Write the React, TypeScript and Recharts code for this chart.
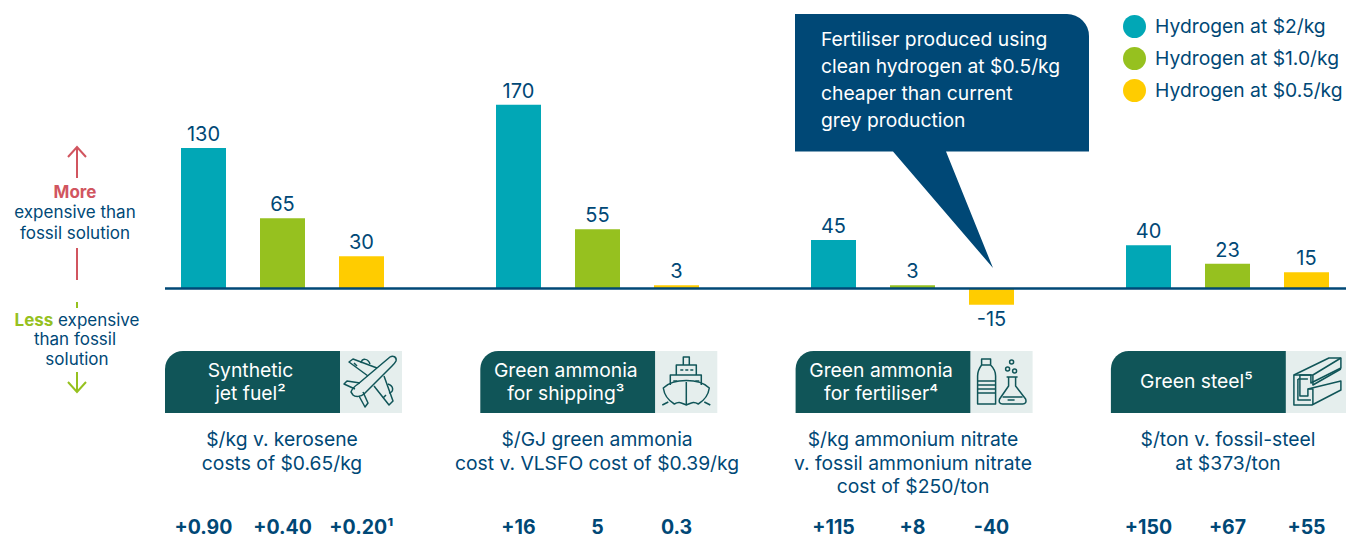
import * as React from "react";
import { BarChart, Bar, XAxis, YAxis, ReferenceLine, LabelList, Legend } from "recharts";

const NAVY = "#004876";
const TEAL = "#01A7B6";
const GREEN = "#96C11F";
const YELLOW = "#FFCC00";
const DARK_TEAL = "#105558";
const PALE = "#E5EEED";
const RED = "#D1555F";
const FONT = "Inter, sans-serif";

const categories = ["Synthetic jet fuel", "Green ammonia for shipping", "Green ammonia for fertiliser", "Green steel"];
const h2Values = [130, 170, 45, 40];
const h1Values = [65, 55, 3, 23];
const h05Values = [30, 3, -15, 15];
const h2Costs = ["+0.90", "+16", "+115", "+150"];
const h1Costs = ["+0.40", "5", "+8", "+67"];
const h05Costs = ["+0.20¹", "0.3", "-40", "+55"];
const headerLines = [["Synthetic", "jet fuel²"], ["Green ammonia", "for shipping³"], ["Green ammonia", "for fertiliser⁴"], ["Green steel⁵"]];
const descLines = [
  ["$/kg v. kerosene", "costs of $0.65/kg"],
  ["$/GJ green ammonia", "cost v. VLSFO cost of $0.39/kg"],
  ["$/kg ammonium nitrate", "v. fossil ammonium nitrate", "cost of $250/ton"],
  ["$/ton v. fossil-steel", "at $373/ton"],
];
const descCenters = [282, 597, 913, 1228];
const calloutLines = ["Fertiliser produced using", "clean hydrogen at $0.5/kg", "cheaper than current", "grey production"];

const data = categories.map((name, i) => ({
  name,
  h2: h2Values[i], h1: h1Values[i], h05: h05Values[i],
  c2: h2Costs[i], c1: h1Costs[i], c05: h05Costs[i],
}));

const CostLabel = (props: any) => (
  <text x={props.x + props.width / 2} y={534} textAnchor="middle" fontFamily={FONT} fontSize={19.5} fontWeight={700} fill={NAVY}>
    {props.value}
  </text>
);

function LegendBox({ payload }: any) {
  return (
    <div style={{ fontFamily: FONT, fontSize: 19.3, color: NAVY }}>
      {(payload || []).map((p: any) => (
        <div key={p.value} style={{ display: "flex", alignItems: "center", height: 32, whiteSpace: "nowrap" }}>
          <span style={{ width: 23, height: 23, borderRadius: "50%", background: p.color, marginRight: 9 }} />
          {p.value}
        </div>
      ))}
    </div>
  );
}

const PlaneIcon = () => (
  <g>
    <path d="M50 6 C53 4 57 6 56 10 C55 12 54 13 52 15 L24 43 C21 46 15 46 13 44 L11 41 C12 38 15 35 18 33 Z" />
    <path d="M37 17 L13 8 L9 11 L28 25 M44 25 L53 50 L49 54 L34 35" />
    <path d="M20 32 L7 30 L4 33 L15 38 M23 41 L28 52 L25 56 L19 45" />
    <path d="M21 12 C22 7 28 7 30 13 M48 33 C54 35 54 41 49 42" />
    <path d="M14 12 L17 15 M46 44 L43 47" />
  </g>
);

const ShipIcon = () => (
  <g>
    <path d="M28 14 V6 H34 V14 M21 24 V14 H41 V24 M15 34 V24 H46 V34" />
    <path d="M25 19 H28 M30 19 H33 M35 19 H38" />
    <path d="M8 37 C18 27 44 27 54 37 C53 44 48 50 43 53 C38 50 36 52 31 54 C26 52 24 50 19 53 C14 50 9 44 8 37 Z" />
    <path d="M31 31 V54 M7 54 L13 51 M55 54 L49 51 M18 30 H22 M40 30 H44" />
  </g>
);

const BottleIcon = () => (
  <g>
    <path d="M11 8 H20 V14 C24 18 25 21 25 25 V53 H7 V25 C7 21 8 18 11 14 Z M11 14 H20" />
    <path d="M7 30 H25 M7 34 H25 M7 38 H25 M7 42 H25" />
    <path d="M36 26 H47 M38 26 V35 L29 48 C28 51 29 53 32 53 H52 C55 53 56 51 55 48 L45 35 V26" />
    <path d="M32 46 H52 M37 49 H44" />
    <circle cx={41} cy={11} r={2} />
    <circle cx={37} cy={18} r={2} />
    <circle cx={44} cy={20} r={2} />
  </g>
);

const BeamIcon = () => (
  <g>
    <path d="M8 24 L43 7 L55 7 V17 L25 32 V24 H14 V45 H22 V38 L55 30 V39 L26 54 H8 Z" />
    <path d="M8 24 H27 L55 7 M27 24 V34 L55 18 M22 38 H27 V54 M12 28 H22 M12 28 V49 H25" />
  </g>
);

const icons = [<PlaneIcon />, <ShipIcon />, <BottleIcon />, <BeamIcon />];

function Header({ index }: { index: number }) {
  const x = 165 + index * 315.3;
  const lines = headerLines[index];
  const y0 = lines.length === 2 ? 26 : 37;
  return (
    <g transform={`translate(${x},351)`}>
      <path d="M0 62 V18 A18 18 0 0 1 18 0 H175 V62 Z" fill={DARK_TEAL} />
      <rect x={175} width={62} height={62} fill={PALE} />
      <text textAnchor="middle" fontFamily={FONT} fontSize={19.3} fill="#fff">
        {lines.map((l, i) => (
          <tspan key={l} x={85.5} y={y0 + i * 23}>{l}</tspan>
        ))}
      </text>
      <g transform="translate(175,0)" fill="none" stroke={DARK_TEAL} strokeWidth={1.5} strokeLinejoin="round">
        {icons[index]}
      </g>
    </g>
  );
}

function Annotations() {
  return (
    <svg width={1346} height={535} style={{ position: "absolute", left: 0, top: 0, pointerEvents: "none" }}>
      {/* callout */}
      <path d="M795 14 H1067 A22 22 0 0 1 1089 36 V151.5 H946 L993 268 L893 151.5 H795 Z" fill={NAVY} />
      <text fontFamily={FONT} fontSize={19.3} fill="#fff">
        {calloutLines.map((l, i) => (
          <tspan key={l} x={821} y={46 + i * 27}>{l}</tspan>
        ))}
      </text>

      {/* more / less side note */}
      <g fill="none" stroke={RED} strokeWidth={2}>
        <path d="M77 178 V147 M68 157 L77 147 L86 157" />
        <path d="M77 248 V280" />
      </g>
      <g fill="none" stroke={GREEN} strokeWidth={2}>
        <path d="M77 302 V308" />
        <path d="M77 372 V392 M68 382 L77 392 L86 382" />
      </g>
      <text fontFamily={FONT} fontSize={17} fill={NAVY} textAnchor="middle">
        <tspan x={75} y={198} fontWeight={700} fill={RED}>More</tspan>
        <tspan x={75} y={218}>expensive than</tspan>
        <tspan x={75} y={239}>fossil solution</tspan>
        <tspan x={77} y={326}><tspan fontWeight={700} fill={GREEN}>Less</tspan> expensive</tspan>
        <tspan x={75} y={345}>than fossil</tspan>
        <tspan x={77} y={365}>solution</tspan>
      </text>

      {categories.map((c, i) => <Header key={c} index={i} />)}

      <text fontFamily={FONT} fontSize={19.3} fill={NAVY} textAnchor="middle">
        {descLines.map((lines, g) =>
          lines.map((l, i) => (
            <tspan key={l} x={descCenters[g]} y={446 + i * 23.5}>{l}</tspan>
          ))
        )}
      </text>
    </svg>
  );
}

export default function App() {
  return (
    <div style={{ position: "absolute", left: 0, top: 0, width: 1346, height: 535, overflow: "hidden", background: "#fff" }}>
      <BarChart
        width={1346}
        height={535}
        data={data}
        margin={{ top: 0, right: 0, bottom: 0, left: 165 }}
        barSize={45}
        barGap={34}
      >
        <XAxis dataKey="name" hide padding={{ left: -40, right: -39 }} />
        <YAxis hide domain={[-228, 267]} />
        <Legend
          layout="vertical"
          verticalAlign="middle"
          align="center"
          itemSorter={null}
          wrapperStyle={{ left: 1123, top: 10, width: 230 }}
          content={<LegendBox />}
        />
        <Bar dataKey="h2" name="Hydrogen at $2/kg" fill={TEAL} isAnimationActive={false}>
          <LabelList dataKey="h2" position="top" offset={7} fill={NAVY} fontFamily={FONT} fontSize={20} />
          <LabelList dataKey="c2" content={CostLabel} />
        </Bar>
        <Bar dataKey="h1" name="Hydrogen at $1.0/kg" fill={GREEN} isAnimationActive={false}>
          <LabelList dataKey="h1" position="top" offset={7} fill={NAVY} fontFamily={FONT} fontSize={20} />
          <LabelList dataKey="c1" content={CostLabel} />
        </Bar>
        <Bar dataKey="h05" name="Hydrogen at $0.5/kg" fill={YELLOW} isAnimationActive={false}>
          <LabelList dataKey="h05" position="top" offset={7} fill={NAVY} fontFamily={FONT} fontSize={20} />
          <LabelList dataKey="c05" content={CostLabel} />
        </Bar>
        <ReferenceLine y={0} stroke={NAVY} strokeWidth={2.5} />
      </BarChart>
      <Annotations />
    </div>
  );
}
